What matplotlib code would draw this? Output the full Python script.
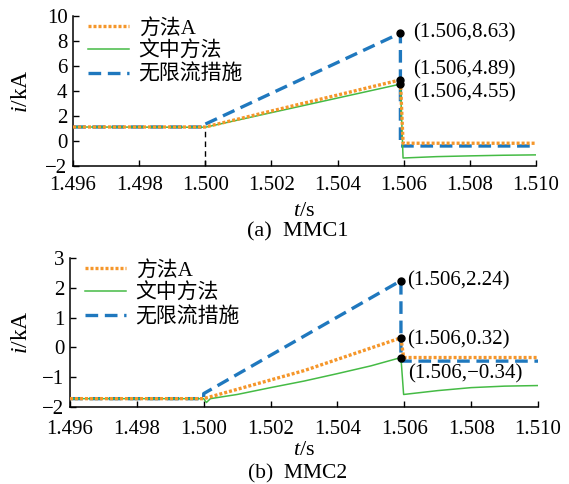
import matplotlib
matplotlib.use("Agg")
import matplotlib.pyplot as plt

plt.rcParams['font.family'] = ['Liberation Serif', 'Noto Sans CJK SC']
plt.rcParams['mathtext.fontset'] = 'custom'
plt.rcParams['mathtext.rm'] = 'Liberation Serif'
plt.rcParams['mathtext.it'] = 'Liberation Serif:italic'
plt.rcParams['axes.unicode_minus'] = True

# 图例名称
labels = ['方法A', '文中方法', '无限流措施']
colors = ['#F5962A', '#45BB45', '#1F78BE']

# (a) MMC1
t1_A = [1.496, 1.500, 1.5059, 1.50598, 1.510]
i1_A = [1.12, 1.12, 4.89, -0.18, -0.18]
t1_P = [1.496, 1.500, 1.5059, 1.50598, 1.507, 1.508, 1.509, 1.510]
i1_P = [1.12, 1.10, 4.55, -1.36, -1.25, -1.19, -1.14, -1.11]
t1_U = [1.496, 1.500, 1.500, 1.5059, 1.5059, 1.510]
i1_U = [1.12, 1.12, 1.35, 8.63, -0.40, -0.40]
pts1 = [(1.5059, 8.63), (1.5059, 4.89), (1.5059, 4.55)]

# (b) MMC2
t2_A = [1.496, 1.500, 1.503, 1.5059, 1.50598, 1.510]
i2_A = [-1.72, -1.72, -0.78, 0.32, -0.34, -0.34]
t2_P = [1.496, 1.500, 1.50008, 1.5002, 1.501, 1.502, 1.503, 1.504, 1.505,
        1.5059, 1.50598, 1.507, 1.508, 1.509, 1.510]
i2_P = [-1.72, -1.72, -1.85, -1.72, -1.58, -1.35, -1.13, -0.88, -0.62,
        -0.34, -1.58, -1.45, -1.35, -1.30, -1.28]
t2_U = [1.496, 1.500, 1.500, 1.5059, 1.5059, 1.510]
i2_U = [-1.72, -1.72, -1.55, 2.24, -0.46, -0.46]
pts2 = [(1.5059, 2.24), (1.5059, 0.32), (1.5059, -0.34)]

xticks = [1.496, 1.498, 1.500, 1.502, 1.504, 1.506, 1.508, 1.510]

W, H = 569, 484
fig = plt.figure(figsize=(W / 100, H / 100), dpi=100)


def px_axes(l, r, t, b):
    return fig.add_axes([l / W, 1 - b / H, (r - l) / W, (b - t) / H])


def fmt(v):
    return ('(1.506,%.2f)' % v).replace('-', '\u2212')


def draw(ax, tA, iA, tP, iP, tU, iU, ylab_x, xpad, xlpad):
    ax.plot(tU, iU, color=colors[2], lw=2.4, ls=(0, (3.8, 2.0)), zorder=2, label=labels[2])
    ax.plot(tP, iP, color=colors[1], lw=1.1, zorder=3, label=labels[1])
    ax.plot(tA, iA, color=colors[0], lw=2.4, ls=(0, (0.9, 0.6)), zorder=4, label=labels[0])
    h, l = ax.get_legend_handles_labels()
    order = [2, 1, 0]
    ax.legend([h[k] for k in order], [l[k] for k in order], loc='upper left',
              bbox_to_anchor=(0.0, 1.08), frameon=False, fontsize=15,
              handlelength=2.0, handletextpad=0.45, labelspacing=0.15,
              borderaxespad=0.3)
    ax.set_xlim(1.496, 1.510)
    ax.set_xticks(xticks)
    ax.set_xticklabels(['%.3f' % x for x in xticks])
    for s in ['top', 'right']:
        ax.spines[s].set_visible(False)
    for s in ['left', 'bottom']:
        ax.spines[s].set_linewidth(1.1)
    ax.tick_params(direction='in', length=4.5, width=1.0, labelsize=15)
    ax.tick_params(axis='x', pad=xpad)
    ax.tick_params(axis='y', pad=4)
    ax.set_xlabel('$t$/s', fontsize=16, labelpad=xlpad)
    ax.set_ylabel('$i$/kA', fontsize=17)
    ax.yaxis.set_label_coords(ylab_x, 0.5)


# 上图
ax1 = px_axes(73, 536, 16, 166)
draw(ax1, t1_A, i1_A, t1_P, i1_P, t1_U, i1_U, -0.089, 7, 5)
ax1.set_ylim(-2, 10)
ax1.set_yticks(range(-2, 11, 2))
ax1.plot([1.500, 1.500], [-2, 1.12], color='black', lw=1.0, ls=(0, (4, 3)), zorder=1)
offs1 = [(13, 0), (13, 10), (13, -9)]
for (x, y), (dx, dy) in zip(pts1, offs1):
    ax1.plot(x, y, 'o', color='black', ms=5, zorder=6)
    ax1.annotate(fmt(y), (x, y), xytext=(dx, dy), textcoords='offset pixels',
                 fontsize=15, va='center', ha='left')

# 下图
ax2 = px_axes(70, 538, 258, 407)
draw(ax2, t2_A, i2_A, t2_P, i2_P, t2_U, i2_U, -0.081, 9, 2)
ax2.set_ylim(-2, 3)
ax2.set_yticks(range(-2, 4))
offs2 = [(6, 0), (6, -2), (7, -16)]
for (x, y), (dx, dy) in zip(pts2, offs2):
    ax2.plot(x, y, 'o', color='black', ms=5, zorder=6)
    ax2.annotate(fmt(y), (x, y), xytext=(dx, dy), textcoords='offset pixels',
                 fontsize=15, va='center', ha='left')

fig.text(298 / W, 1 - 232 / H, '(a)  MMC1', fontsize=16, ha='center', va='center')
fig.text(298 / W, 1 - 474 / H, '(b)  MMC2', fontsize=15.5, ha='center', va='center')

fig.savefig('out.png', dpi=100)
